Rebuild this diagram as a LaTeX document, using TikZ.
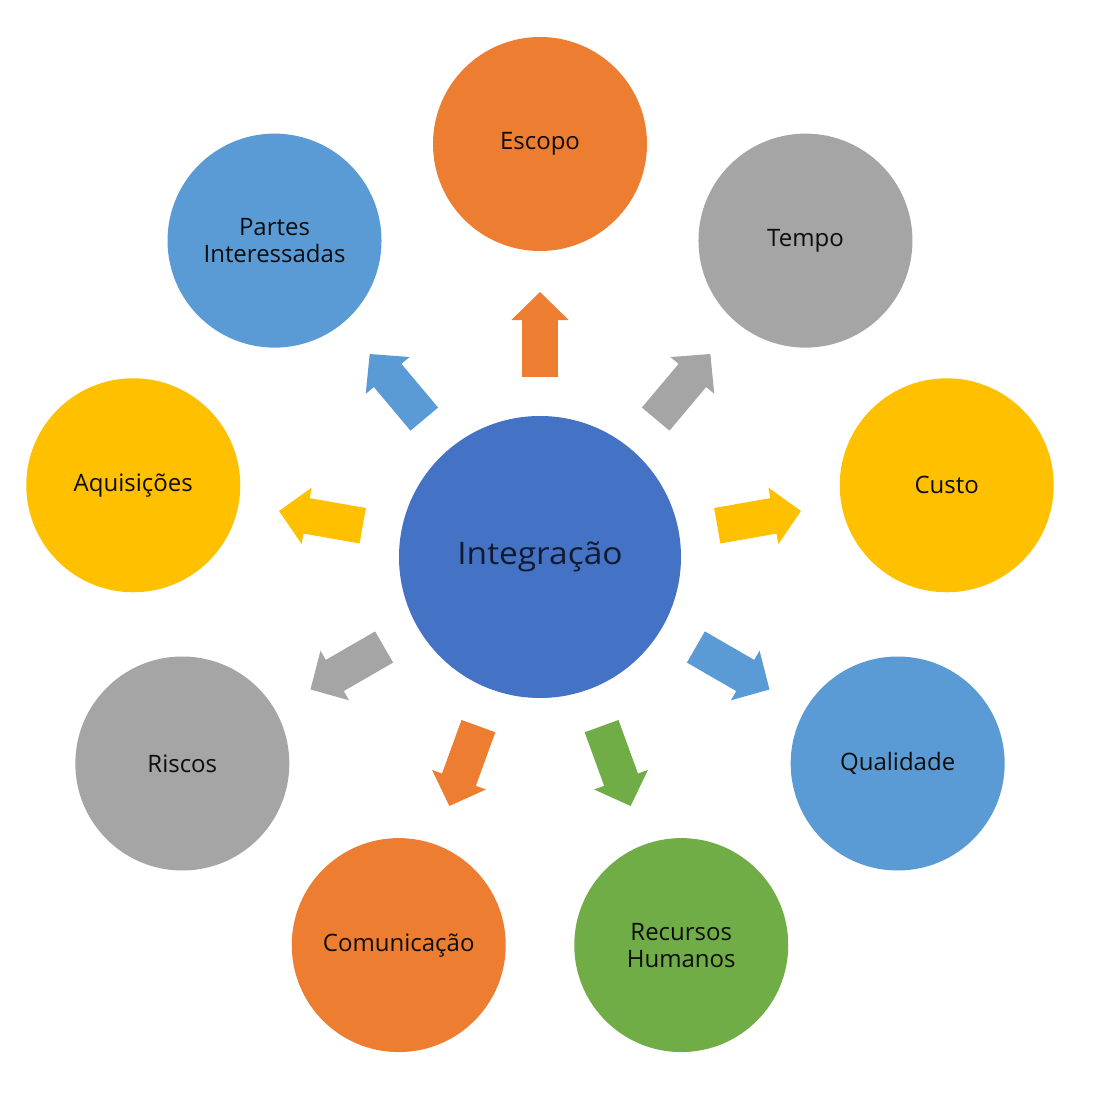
\documentclass[tikz,border=0pt]{standalone}
\usepackage{fontspec}
\setmainfont{Open Sans}
\newfontfamily\hubfont[FakeStretch=1.08]{Open Sans}
\usetikzlibrary{arrows.meta,calc}
\definecolor{laranja}{HTML}{ED7D31}
\definecolor{cinza}{HTML}{A5A5A5}
\definecolor{amarelo}{HTML}{FFC000}
\definecolor{azulclaro}{HTML}{5B9BD5}
\definecolor{verde}{HTML}{70AD47}
\definecolor{azul}{HTML}{4472C4}
\definecolor{textohub}{HTML}{111B30}
\tikzset{
  area/.style={circle,fill=#1,minimum size=107pt,inner sep=0pt,align=center,
    text=black!95,font=\fontsize{12}{13.5}\selectfont},
  seta/.style={#1,line width=18pt,-{Triangle[length=14pt,width=28.5pt,line width=0.8pt]}}
}
\begin{document}
\begin{tikzpicture}[x=0.5pt,y=0.5pt]
\useasboundingbox (-540,-555) rectangle (557,557);
\node[circle,fill=azul,minimum size=141pt,inner sep=0pt,text=textohub,
  font=\hubfont\fontsize{15.5}{18}\selectfont] (hub) at (0,0) {Integração};
% areas around the hub
\foreach \ang/\nome/\cor/\txt in {90/escopo/laranja/Escopo,
    50/tempo/cinza/Tempo,
    10/custo/amarelo/Custo,
    -30/qualidade/azulclaro/Qualidade,
    -70/rh/verde/{Recursos\\Humanos},
    -110/comunicacao/laranja/Comunicação,
    -150/riscos/cinza/Riscos,
    170/aquisicoes/amarelo/Aquisições,
    130/partes/azulclaro/{Partes\\Interessadas}}{
  \node[area=\cor] (\nome) at (\ang:413) {\txt};
  \draw[seta=\cor] ($(hub)!0.4358!(\nome)$) -- ($(hub)!0.6416!(\nome)$);
}
\end{tikzpicture}
\end{document}
